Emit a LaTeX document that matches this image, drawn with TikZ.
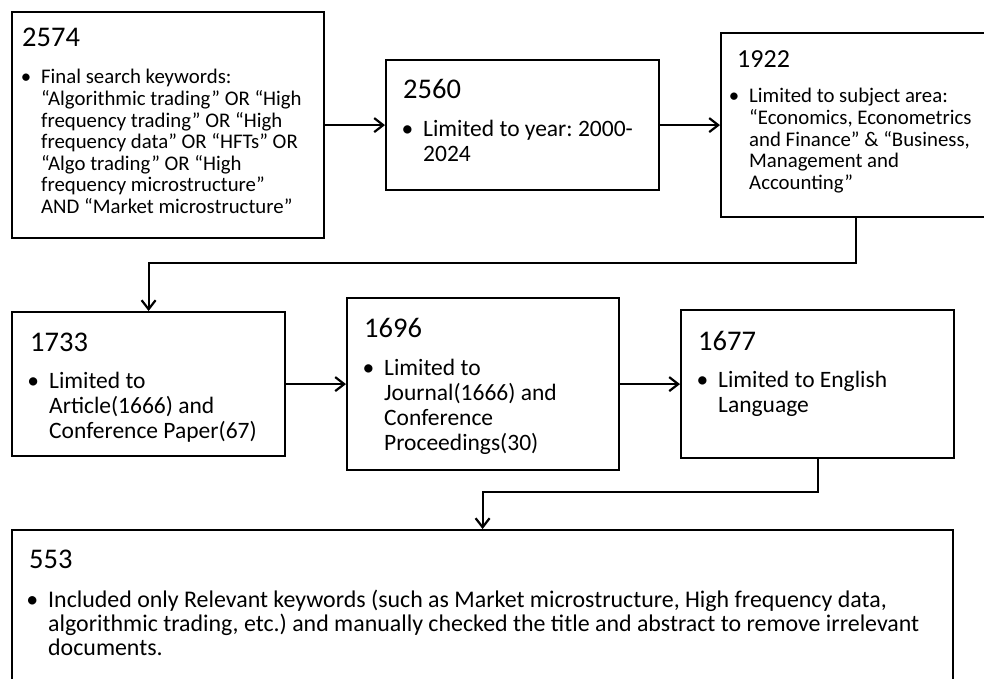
\documentclass[tikz,border=0pt]{standalone}
\usepackage{fontspec}
\setmainfont{Carlito}
\usepackage{tikz}
\usetikzlibrary{positioning,arrows.meta}
\frenchspacing
\newcommand{\numfont}{\fontsize{28.5}{30}\selectfont}
\newcommand{\bigfont}{\fontsize{23.5}{25}\selectfont}
\newcommand{\smallfont}{\fontsize{20.8}{21.6}\selectfont}
\newcommand{\itembullet}{\llap{\textbullet\hspace{10pt}}}
\newcommand{\boxlines}[1]{\begin{tabular}[t]{@{}l@{}}#1\end{tabular}}
\tikzset{
    stepbox/.style={
        rectangle,
        draw=black,
        line width=2.2pt,
        anchor=north west,
        inner sep=0pt
    },
    headtext/.style={
        anchor=base west,
        inner sep=0pt,
        font=\numfont
    },
    bodytext/.style={
        anchor=base west,
        inner sep=0pt,
        font=\bigfont
    },
    arrow/.style={
        -{Straight Barb[length=9pt,width=14pt]},
        line width=2.2pt
    }
}

\begin{document}
\begin{tikzpicture}[x=1pt,y=-1pt]
          \useasboundingbox (0,0) rectangle (984,679);
          \clip (0,0) rectangle (984,679);
          \node (b2574) [stepbox, minimum width=312pt, minimum height=226pt] at (11,11) {};
          \node (b2560) [stepbox, minimum width=273pt, minimum height=130pt] at (385,59) {};
          \node (b1922) [stepbox, minimum width=270pt, minimum height=184pt] at (720,32) {};
          \node (b1733) [stepbox, minimum width=273pt, minimum height=144pt] at (11,311) {};
          \node (b1696) [stepbox, minimum width=272pt, minimum height=172pt] at (346,297) {};
          \node (b1677) [stepbox, minimum width=273pt, minimum height=148pt] at (680,309) {};
          \node (b553) [stepbox, minimum width=941pt, minimum height=180pt] at (11,529) {};
          \node (h2574) [headtext] at (22,47) {2574};
          \node (t2574) [bodytext, font=\smallfont] at (41,84) {\boxlines{\itembullet Final search keywords:\\“Algorithmic trading” OR “High\\frequency trading” OR “High\\frequency data” OR “HFTs” OR\\“Algo trading” OR “High\\frequency microstructure”\\AND “Market microstructure”}};
          \node (h2560) [headtext] at (403,99) {2560};
          \node (t2560) [bodytext] at (423,137) {\boxlines{\itembullet Limited to year: 2000-\\2024}};
          \node (h1922) [headtext, font=\fontsize{26}{28}\selectfont] at (737,68) {1922};
          \node (t1922) [bodytext, font=\smallfont] at (749,103) {\boxlines{\itembullet Limited to subject area:\\“Economics, Econometrics\\and Finance” \& “Business,\\Management and\\Accounting”}};
          \node (h1733) [headtext] at (30,351) {1733};
          \node (t1733) [bodytext] at (49,388) {\boxlines{\itembullet Limited to\\Article(1666) and\\Conference Paper(67)}};
          \node (h1696) [headtext] at (364,337) {1696};
          \node (t1696) [bodytext] at (384,375) {\boxlines{\itembullet Limited to\\Journal(1666) and\\Conference\\Proceedings(30)}};
          \node (h1677) [headtext] at (698,350) {1677};
          \node (t1677) [bodytext] at (718,387) {\boxlines{\itembullet Limited to English\\Language}};
          \node (h553) [headtext] at (29,568) {553};
          \node (t553) [bodytext, font=\fontsize{23.9}{24}\selectfont] at (48,607) {\boxlines{\itembullet Included only Relevant keywords (such as Market microstructure, High frequency data,\\algorithmic trading, etc.) and manually checked the title and abstract to remove irrelevant\\documents.}};
          \coordinate (turn1) at (0,263);
          \coordinate (turn2) at (0,492);
          \draw [arrow] (b2574.east) -- (b2560.west);
          \draw [arrow] (b2560.east) -- (b1922.west);
          \draw [arrow] (b1922.south) -- (b1922.south |- turn1) -| (b1733.north);
          \draw [arrow] (b1733.east) -- (b1696.west);
          \draw [arrow] (b1696.east) -- (b1677.west);
          \draw [arrow] (b1677.south) -- (b1677.south |- turn2) -| (b553.north);
        \end{tikzpicture}
\end{document}
